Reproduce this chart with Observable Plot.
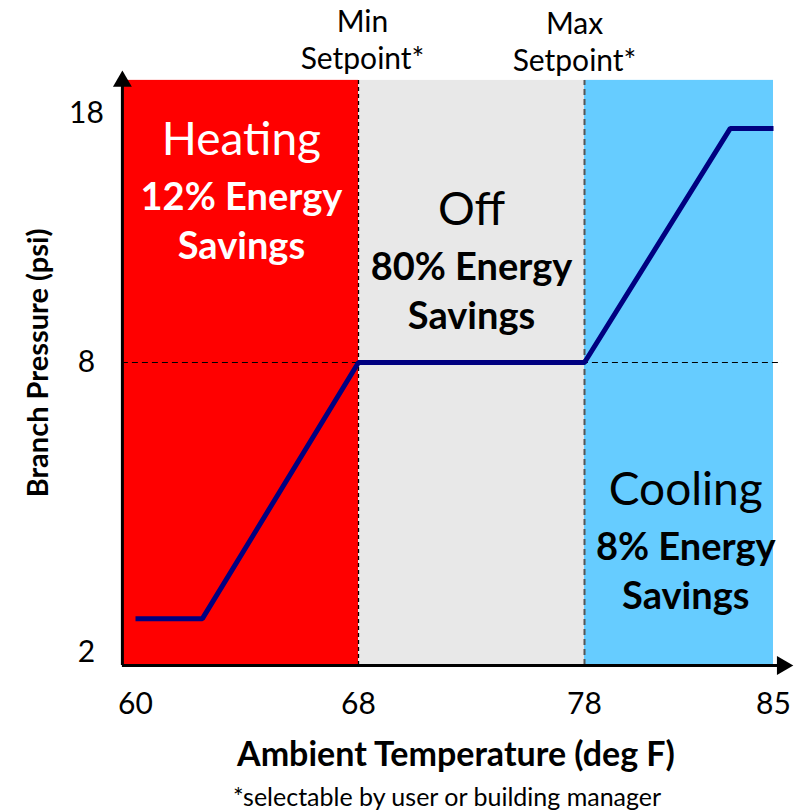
<!DOCTYPE html>
<html><head><meta charset="utf-8">
<script src="https://cdn.jsdelivr.net/npm/d3@7"></script>
<script src="https://cdn.jsdelivr.net/npm/@observablehq/plot@0.6"></script>
<style>body{margin:0;background:#fff}</style>
</head><body><div id="chart"></div>
<script>
// Control curve: ambient temperature (deg F) vs branch pressure (psi)
const temps = [60, 62.4, 68, 78, 83.4, 85];
const pressure = [2.7, 2.7, 8, 8, 17.4, 17.4];
const xTicks = [60, 68, 78, 85];
const yTicks = [2, 8, 18];
const zoneNames = ["Heating", "Off", "Cooling"];
const zoneSavings = ["12% Energy", "80% Energy", "8% Energy"];
const zoneStart = [59.53, 68, 78];
const zoneEnd = [68, 78, 85];
const zoneLabelT = [63.8, 73, 81.75];
const zoneLabelP = [16.92, 14.1, 5.35];
const zoneColors = ["#FF0000", "#E8E8E8", "#66CCFF"];
const zoneTextColors = ["#FFFFFF", "#000000", "#000000"];
const setpointTemps = [68, 78];
const setpointLabels = ["Min\nSetpoint*", "Max\nSetpoint*"];
const xLabel = "Ambient Temperature (deg F)";
const yLabel = "Branch Pressure (psi)";
const caption = "*selectable by user or building manager";
const xAxisStart = 59.53, xAxisEnd = 85.33;
const yAxisStart = 1.73, yAxisEnd = 19.29, zoneTop = 19.33;

const curve = temps.map((t, i) => ({t, p: pressure[i]}));
const zones = zoneNames.map((name, i) => ({
  name, savings: zoneSavings[i], start: zoneStart[i], end: zoneEnd[i],
  lt: zoneLabelT[i], p: zoneLabelP[i],
  fill: zoneColors[i], ink: zoneTextColors[i]
}));
const setpoints = setpointTemps.map((t, i) => ({t, label: setpointLabels[i]}));

const chart = Plot.plot({
  width: 802, height: 812,
  marginTop: 80, marginBottom: 147, marginLeft: 122, marginRight: 29,
  style: {fontFamily: "Lato, sans-serif", background: "white", color: "black"},
  x: {type: "linear", domain: xTicks, range: [135, 358, 584, 773], axis: null},
  y: {type: "linear", domain: yTicks, range: [652, 362, 113], axis: null},
  color: {type: "identity"},
  marks: [
    Plot.rect(zones, {x1: "start", x2: "end", y1: yAxisStart, y2: zoneTop, fill: "fill"}),
    Plot.ruleX([setpointTemps[0]], {y1: yAxisStart, y2: zoneTop, stroke: "#000", strokeWidth: 1.3, strokeDasharray: "4,3"}),
    Plot.ruleX([setpointTemps[1]], {y1: yAxisStart, y2: zoneTop, stroke: "#555", strokeWidth: 2, strokeDasharray: "6,4"}),
    Plot.ruleY([8], {x1: xAxisStart, x2: xAxisEnd, stroke: "#000", strokeWidth: 1.2, strokeDasharray: "6,4"}),
    Plot.line(curve, {x: "t", y: "p", stroke: "#000080", strokeWidth: 5, strokeLinejoin: "miter", strokeLinecap: "butt"}),
    // axes with arrows
    Plot.ruleX([xAxisStart], {y1: yAxisStart, y2: yAxisEnd, stroke: "#000", strokeWidth: 3}),
    Plot.ruleY([yAxisStart], {x1: xAxisStart, x2: xAxisEnd, stroke: "#000", strokeWidth: 3}),
    Plot.dot([0], {x: xAxisStart, y: yAxisEnd, symbol: "triangle", r: 7, fill: "#000", stroke: null}),
    Plot.dot([0], {x: xAxisEnd, y: yAxisStart, symbol: "triangle", r: 7, fill: "#000", stroke: null, rotate: 90}),
    // tick labels
    Plot.text(xTicks, {x: d => d, frameAnchor: "bottom", lineAnchor: "middle", dy: 39, fontSize: 30, text: d => String(d), fill: "#000"}),
    Plot.text(yTicks, {y: d => d, frameAnchor: "left", textAnchor: "middle", dx: -36, fontSize: 30, text: d => String(d), fill: "#000"}),
    // zone labels
    Plot.text(zones, {x: "lt", y: "p", text: "name", fill: "ink", fontSize: 46}),
    Plot.text(zones, {x: "lt", y: "p", text: "savings", fill: "ink", fontSize: 38, fontWeight: "bold", dy: 57}),
    Plot.text(zones, {x: "lt", y: "p", text: () => "Savings", fill: "ink", fontSize: 38, fontWeight: "bold", dy: 106}),
    // setpoint labels above
    Plot.text(setpoints.slice(0, 1), {x: "t", text: "label", frameAnchor: "top", lineAnchor: "middle", dy: -42, dx: 4, fontSize: 30, lineHeight: 1.25, fill: "#000"}),
    Plot.text(setpoints.slice(1), {x: "t", text: "label", frameAnchor: "top", lineAnchor: "middle", dy: -40, dx: -10, fontSize: 30, lineHeight: 1.25, fill: "#000"}),
    // axis titles and caption
    Plot.text([xLabel], {frameAnchor: "bottom", lineAnchor: "middle", dx: 8, dy: 90, fontSize: 34, fontWeight: "bold", fill: "#000"}),
    Plot.text([yLabel], {frameAnchor: "left", textAnchor: "middle", lineAnchor: "middle", dx: -84, dy: -10, rotate: -90, fontSize: 29, fontWeight: "bold", fill: "#000"}),
    Plot.text([caption], {frameAnchor: "bottom", lineAnchor: "middle", dx: -1, dy: 132, fontSize: 25, fill: "#000"})
  ]
});
document.getElementById("chart").append(chart);
</script>
</body></html>
